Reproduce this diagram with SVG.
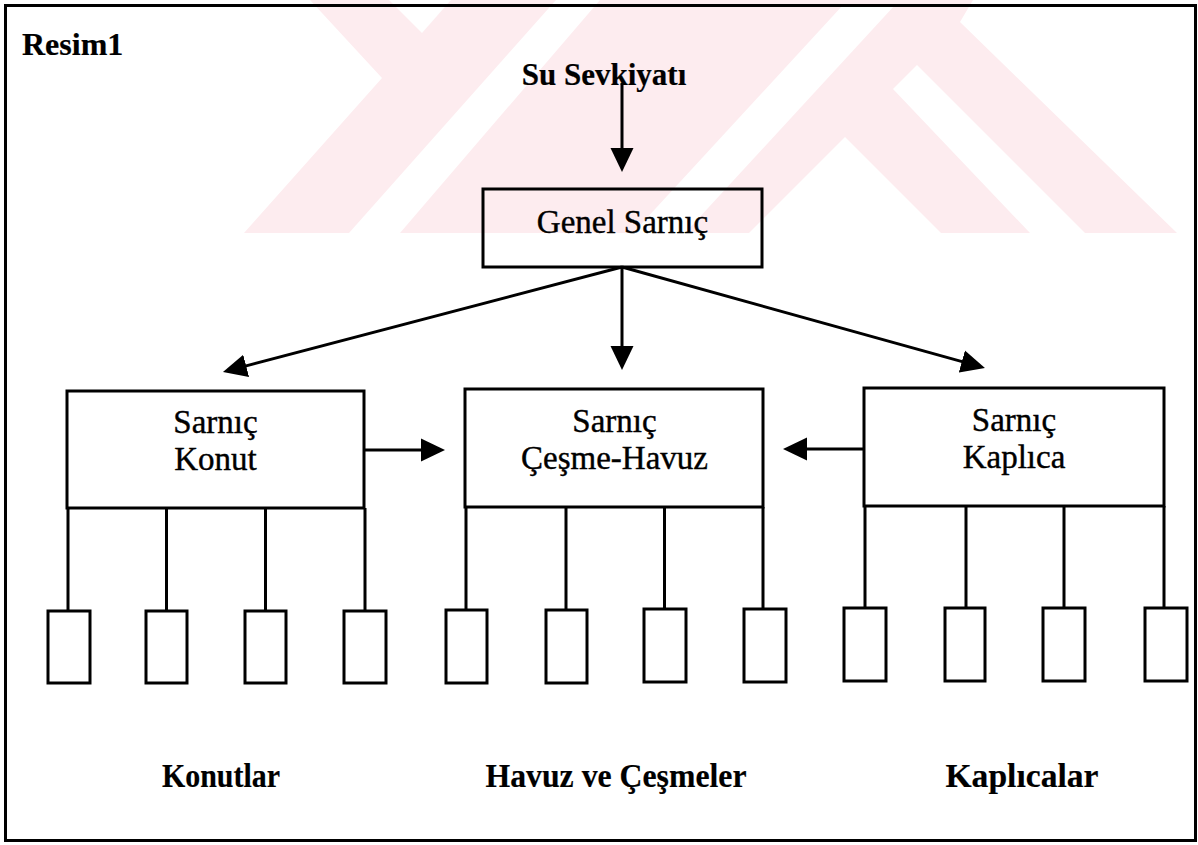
<svg xmlns="http://www.w3.org/2000/svg" width="1198" height="845" viewBox="0 0 1198 845">
  <defs>
    <style>
      .box { fill: none; stroke: #000; stroke-width: 3; }
      .wire { fill: none; stroke: #000; stroke-width: 3; }
      .arrow { marker-end: url(#head); }
      .lbl { font-family: "Liberation Serif", "Times New Roman", serif; font-size: 33px; fill: #000; text-anchor: middle; stroke: #000; stroke-width: 0.4; }
      .bold { font-weight: bold; stroke-width: 0.2; }
      .wm { fill: #fdecef; }
      .wm-cut { fill: #ffffff; }
    </style>
    <marker id="head" markerUnits="userSpaceOnUse" markerWidth="24" markerHeight="24" refX="4" refY="12" orient="auto">
      <path d="M0,0.5 L24,12 L0,23.5 Z" fill="#000"/>
    </marker>
    <clipPath id="wm-clip">
      <rect x="0" y="0" width="1198" height="233"/>
    </clipPath>
  </defs>

  <rect width="1198" height="845" fill="#ffffff"/>

  <!-- faint background emblem in the upper band -->
  <g id="watermark" clip-path="url(#wm-clip)">
    <polygon class="wm" points="310,0 973,0 960,22 1177,233 244,233 382,78"/>
    <polygon class="wm-cut" points="389,0 451,0 422,33"/>
    <polygon class="wm-cut" points="556,0 600,0 400,233 349,233"/>
    <polygon class="wm-cut" points="843,5 895,5 685,233 633,233"/>
    <polygon class="wm-cut" points="845,137 943,235 747,235"/>
    <polygon class="wm-cut" points="917,65 1085,233 1030,233 893,89"/>
  </g>

  <!-- outer frame -->
  <rect id="frame" x="5.5" y="5.5" width="1190" height="835" fill="none" stroke="#000" stroke-width="3"/>
  <text id="caption" class="lbl bold" x="22" y="55" style="text-anchor:start;font-size:32px">Resim1</text>

  <!-- connectors -->
  <g id="connectors">
    <path class="wire arrow" d="M622,83 L622,152"/>
    <path class="wire arrow" d="M622,267 L622,350"/>
    <path class="wire arrow" d="M622,267 L242.3,366.9"/>
    <path class="wire arrow" d="M622,267 L965.7,362.6"/>
    <path class="wire arrow" d="M364,450 L425,450"/>
    <path class="wire arrow" d="M864,449 L803,449"/>
    <!-- branches to outlets -->
    <path class="wire" d="M68,508 V610 M166.5,508 V610 M265.5,508 V610 M365,508 V610"/>
    <path class="wire" d="M466,507 V610 M566,507 V610 M664.5,507 V610 M763,507 V610"/>
    <path class="wire" d="M865,506 V609 M966,506 V609 M1064,506 V609 M1164,506 V609"/>
  </g>

  <g id="supply">
    <text class="lbl bold" x="604" y="85" style="font-size:31px">Su Sevkiyatı</text>
  </g>

  <g id="genel">
    <rect class="box" x="483" y="189" width="279" height="78"/>
    <text class="lbl" x="622.5" y="233">Genel Sarnıç</text>
  </g>

  <g id="konut">
    <rect class="box" x="67" y="391" width="297" height="117"/>
    <text class="lbl" x="215.5" y="433">Sarnıç</text>
    <text class="lbl" x="215.5" y="470">Konut</text>
  </g>

  <g id="cesme">
    <rect class="box" x="465" y="389" width="298" height="118"/>
    <text class="lbl" x="614.5" y="432">Sarnıç</text>
    <text class="lbl" x="614.5" y="469">Çeşme-Havuz</text>
  </g>

  <g id="kaplica">
    <rect class="box" x="864" y="388" width="300" height="118"/>
    <text class="lbl" x="1014" y="431">Sarnıç</text>
    <text class="lbl" x="1014" y="468">Kaplıca</text>
  </g>

  <g id="konut-outlets">
    <rect class="box" x="48" y="611" width="42" height="72"/>
    <rect class="box" x="146" y="611" width="41" height="72"/>
    <rect class="box" x="245" y="611" width="41" height="72"/>
    <rect class="box" x="344" y="611" width="42" height="72"/>
  </g>

  <g id="cesme-outlets">
    <rect class="box" x="446" y="610" width="41" height="73"/>
    <rect class="box" x="546" y="610" width="41" height="73"/>
    <rect class="box" x="644" y="609" width="42" height="73"/>
    <rect class="box" x="744" y="609" width="42" height="73"/>
  </g>

  <g id="kaplica-outlets">
    <rect class="box" x="844" y="608" width="42" height="73"/>
    <rect class="box" x="945" y="608" width="40" height="73"/>
    <rect class="box" x="1043" y="608" width="42" height="73"/>
    <rect class="box" x="1145" y="608" width="42" height="73"/>
  </g>

  <g id="group-labels">
    <text class="lbl bold" x="221" y="787" style="font-size:34px" textLength="118" lengthAdjust="spacingAndGlyphs">Konutlar</text>
    <text class="lbl bold" x="616" y="787" style="font-size:34px" textLength="261" lengthAdjust="spacingAndGlyphs">Havuz ve Çeşmeler</text>
    <text class="lbl bold" x="1022" y="787" style="font-size:34px" textLength="153" lengthAdjust="spacingAndGlyphs">Kaplıcalar</text>
  </g>
</svg>
